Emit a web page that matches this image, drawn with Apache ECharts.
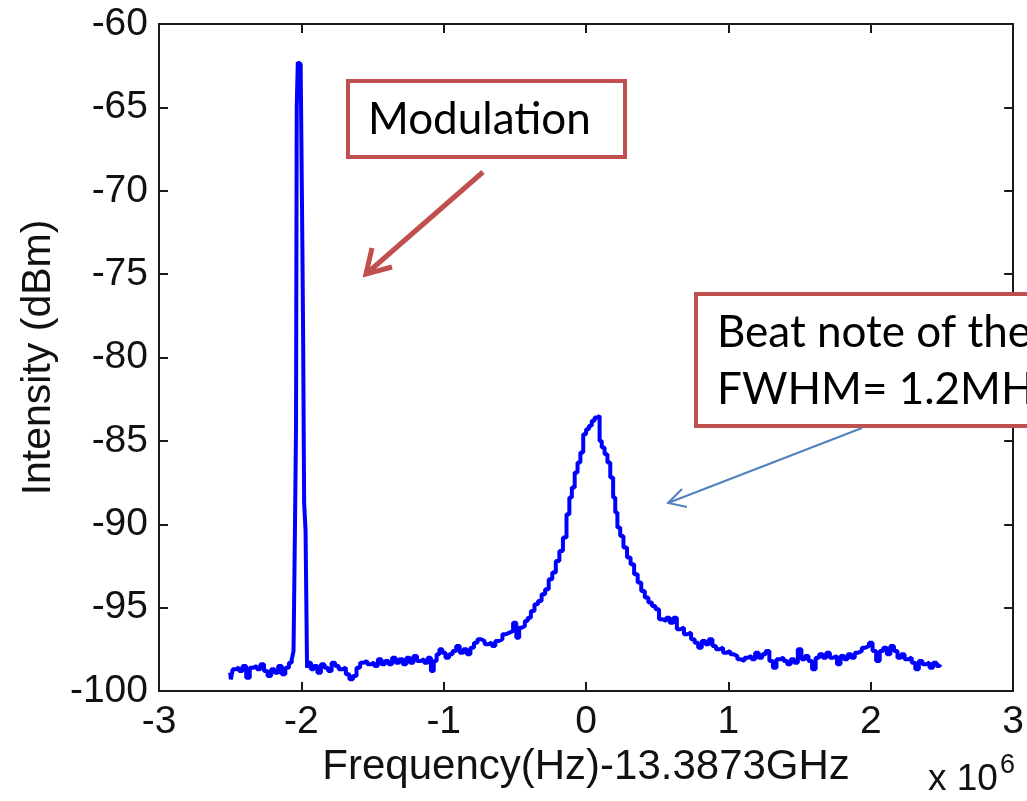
<!DOCTYPE html>
<html><head><meta charset="utf-8">
<script src="https://cdn.jsdelivr.net/npm/echarts@6/dist/echarts.min.js"></script>
<style>html,body{margin:0;padding:0;background:#fff}#c{width:1027px;height:801px}</style>
</head><body><div id="c"></div>
<script>
// Frequency offset (x 10^6 Hz) and intensity (dBm)
var freq = [
-2.500,-2.490,-2.475,-2.450,-2.425,-2.400,-2.375,-2.350,-2.325,-2.300,-2.275,-2.250,-2.225,-2.200,-2.175,-2.150,-2.125,-2.100,-2.075,-2.060,
-2.050,-2.040,-2.035,-2.030,-2.020,-2.005,-1.995,-1.990,-1.985,-1.976,-1.965,-1.955,-1.940,-1.925,-1.900,-1.875,-1.850,-1.825,-1.800,-1.775,
-1.750,-1.725,-1.700,-1.675,-1.650,-1.625,-1.600,-1.575,-1.550,-1.525,-1.500,-1.475,-1.450,-1.425,-1.400,-1.375,-1.350,-1.325,-1.300,-1.275,
-1.250,-1.225,-1.200,-1.175,-1.150,-1.125,-1.100,-1.080,-1.060,-1.040,-1.020,-1.000,-0.975,-0.950,-0.925,-0.900,-0.875,-0.850,-0.825,-0.800,
-0.775,-0.750,-0.725,-0.700,-0.675,-0.650,-0.625,-0.600,-0.575,-0.550,-0.525,-0.500,-0.480,-0.460,-0.440,-0.420,-0.400,-0.375,-0.350,-0.325,
-0.300,-0.275,-0.250,-0.225,-0.200,-0.175,-0.150,-0.125,-0.110,-0.090,-0.070,-0.050,-0.030,-0.010,0.010,0.030,0.050,0.070,0.090,0.100,
0.120,0.140,0.160,0.180,0.200,0.210,0.230,0.250,0.275,0.300,0.325,0.350,0.375,0.400,0.425,0.450,0.475,0.500,0.525,0.550,
0.575,0.600,0.625,0.650,0.675,0.700,0.725,0.750,0.775,0.800,0.825,0.850,0.875,0.900,0.925,0.950,0.975,1.000,1.025,1.050,
1.075,1.100,1.125,1.150,1.175,1.200,1.225,1.250,1.275,1.300,1.325,1.350,1.375,1.400,1.425,1.450,1.475,1.500,1.525,1.550,
1.575,1.600,1.625,1.650,1.675,1.700,1.725,1.750,1.775,1.800,1.825,1.850,1.875,1.900,1.925,1.950,1.975,2.000,2.025,2.050,
2.075,2.100,2.125,2.150,2.175,2.200,2.225,2.250,2.275,2.300,2.325,2.350,2.375,2.400,2.425,2.450,2.475,2.490
];
var intensity = [
-98.9,-99.3,-98.7,-98.6,-98.8,-98.5,-99.2,-98.6,-98.5,-98.7,-98.4,-98.8,-99.1,-98.7,-98.9,-98.5,-99.0,-98.6,-98.3,-98.1,
-97.6,-90.3,-84.2,-65.0,-62.3,-62.4,-66.8,-73.6,-78.8,-88.7,-90.4,-98.6,-98.3,-98.7,-98.5,-98.9,-98.4,-98.6,-98.8,-98.3,
-98.5,-98.7,-98.6,-99.0,-99.3,-99.1,-98.6,-98.3,-98.2,-98.4,-98.3,-98.5,-98.1,-98.4,-98.2,-98.4,-98.0,-98.3,-98.1,-98.4,
-98.0,-98.3,-97.9,-98.2,-98.1,-98.3,-98.0,-98.8,-98.2,-97.8,-97.5,-97.7,-98.0,-97.8,-97.6,-97.3,-97.7,-97.5,-97.8,-97.4,
-97.1,-96.9,-97.0,-97.2,-97.1,-97.3,-97.0,-96.9,-96.6,-96.5,-96.4,-95.9,-96.8,-96.2,-96.1,-95.8,-95.6,-95.2,-94.8,-94.6,
-94.2,-93.9,-93.3,-92.9,-92.2,-91.6,-90.8,-89.4,-88.4,-87.8,-86.9,-86.3,-85.7,-84.6,-84.3,-84.1,-83.8,-83.6,-83.5,-85.0,
-85.4,-85.8,-86.3,-87.2,-88.4,-89.3,-90.2,-90.7,-91.4,-92.0,-92.4,-93.0,-93.5,-94.0,-94.4,-94.7,-94.9,-95.1,-95.7,-95.8,
-95.6,-95.9,-95.6,-96.3,-96.2,-96.6,-96.5,-96.9,-97.1,-97.4,-97.0,-97.2,-96.9,-97.3,-97.5,-97.4,-97.7,-97.6,-97.8,-97.9,
-98.1,-98.2,-98.0,-97.9,-98.1,-97.7,-98.0,-97.8,-97.6,-98.2,-98.6,-98.1,-98.0,-98.2,-98.4,-98.1,-98.3,-97.5,-98.1,-97.9,
-98.2,-98.7,-98.0,-97.8,-98.0,-97.7,-98.0,-97.9,-98.4,-97.9,-98.1,-97.8,-98.0,-97.7,-97.6,-97.4,-97.3,-97.1,-97.6,-98.2,
-97.6,-97.4,-97.8,-97.3,-97.6,-98.0,-97.8,-98.1,-98.0,-98.3,-98.7,-98.2,-98.4,-98.3,-98.6,-98.3,-98.5,-98.4
];
var xTicks = [-3, -2, -1, 0, 1, 2, 3];
var yTicks = [-100, -95, -90, -85, -80, -75, -70, -65, -60];
var xTitle = 'Frequency(Hz)-13.3873GHz';
var yTitle = 'Intensity (dBm)';
var note1 = 'Modulation';
var note2a = 'Beat note of the';
var note2b = 'FWHM= 1.2MHz';

var pts = freq.map(function (f, i) { return [f, intensity[i]]; });
var chart = echarts.init(document.getElementById('c'), null, {renderer: 'canvas'});
var axisLine = {show: true, onZero: false, lineStyle: {color: '#1a1a1a', width: 2}};
var tick = {show: true, inside: true, length: 9, lineStyle: {color: '#1a1a1a', width: 2}};
var lblFont = {fontFamily: 'Liberation Sans, Arial, sans-serif', fontSize: 39, color: '#111'};
var xMin = xTicks[0], xMax = xTicks[xTicks.length - 1];
var yMin = yTicks[0], yMax = yTicks[yTicks.length - 1];
chart.setOption({
  animation: false,
  backgroundColor: '#fff',
  grid: {left: 159, right: 9, top: 24, bottom: 110, containLabel: false},
  xAxis: [{
    type: 'value', min: xMin, max: xMax, interval: 1, position: 'bottom',
    axisLine: axisLine, axisTick: tick, splitLine: {show: false},
    axisLabel: Object.assign({margin: 12, showMinLabel: true, showMaxLabel: true, hideOverlap: false}, lblFont),
    name: xTitle, nameLocation: 'middle', nameGap: 51,
    nameTextStyle: {fontFamily: 'Liberation Sans, Arial, sans-serif', fontSize: 42, color: '#111'}
  }, {
    type: 'value', min: xMin, max: xMax, interval: 1, position: 'top',
    axisLine: axisLine, axisTick: tick, splitLine: {show: false}, axisLabel: {show: false}
  }],
  yAxis: [{
    type: 'value', min: yMin, max: yMax, interval: 5, position: 'left',
    axisLine: axisLine, axisTick: tick, splitLine: {show: false},
    axisLabel: Object.assign({margin: 11, showMinLabel: true, showMaxLabel: true}, lblFont),
    name: yTitle, nameLocation: 'middle', nameGap: 98,
    nameTextStyle: {fontFamily: 'Liberation Sans, Arial, sans-serif', fontSize: 41, color: '#111'}
  }, {
    type: 'value', min: yMin, max: yMax, interval: 5, position: 'right',
    axisLine: axisLine, axisTick: tick, splitLine: {show: false}, axisLabel: {show: false}
  }],
  series: [{
    type: 'line', data: pts, xAxisIndex: 0, yAxisIndex: 0,
    showSymbol: false, symbol: 'none', clip: true, step: 'middle',
    lineStyle: {color: '#0000ff', width: 4, join: 'bevel', cap: 'butt'}
  }],
  graphic: [
    {type: 'rect', shape: {x: 348, y: 81, width: 277, height: 76},
     style: {fill: '#fff', stroke: '#c0504d', lineWidth: 4}, z: 10},
    {type: 'text', x: 368, y: 120, z: 11,
     style: {text: note1, font: '44px Lato, "Noto Sans", sans-serif', fill: '#000', verticalAlign: 'middle'}},
    {type: 'polyline', z: 10, shape: {points: [[483, 172], [366, 274]]},
     style: {stroke: '#c0504d', lineWidth: 5, fill: null}},
    {type: 'polyline', z: 10, shape: {points: [[372, 248], [366, 274], [392, 267]]},
     style: {stroke: '#c0504d', lineWidth: 5, fill: null, lineJoin: 'miter'}},
    {type: 'rect', shape: {x: 696, y: 294, width: 360, height: 132},
     style: {fill: '#fff', stroke: '#c0504d', lineWidth: 4}, z: 10},
    {type: 'text', x: 717, y: 333, z: 11,
     style: {text: note2a, font: '44px Lato, "Noto Sans", sans-serif', fill: '#000', verticalAlign: 'middle'}},
    {type: 'text', x: 717, y: 390, z: 11,
     style: {text: note2b, font: '44px Lato, "Noto Sans", sans-serif', fill: '#000', verticalAlign: 'middle'}},
    {type: 'polyline', z: 10, shape: {points: [[862, 428], [668, 503]]},
     style: {stroke: '#4f81bd', lineWidth: 2, fill: null}},
    {type: 'polyline', z: 10, shape: {points: [[682, 489], [668, 503], [687, 507]]},
     style: {stroke: '#4f81bd', lineWidth: 2, fill: null}},
    {type: 'text', x: 928, y: 780, z: 11,
     style: {text: 'x 10', font: '37px "Liberation Sans", Arial, sans-serif', fill: '#111', verticalAlign: 'middle'}},
    {type: 'text', x: 1000, y: 766, z: 11,
     style: {text: '6', font: '27px "Liberation Sans", Arial, sans-serif', fill: '#111', verticalAlign: 'middle'}}
  ]
});
</script></body></html>
